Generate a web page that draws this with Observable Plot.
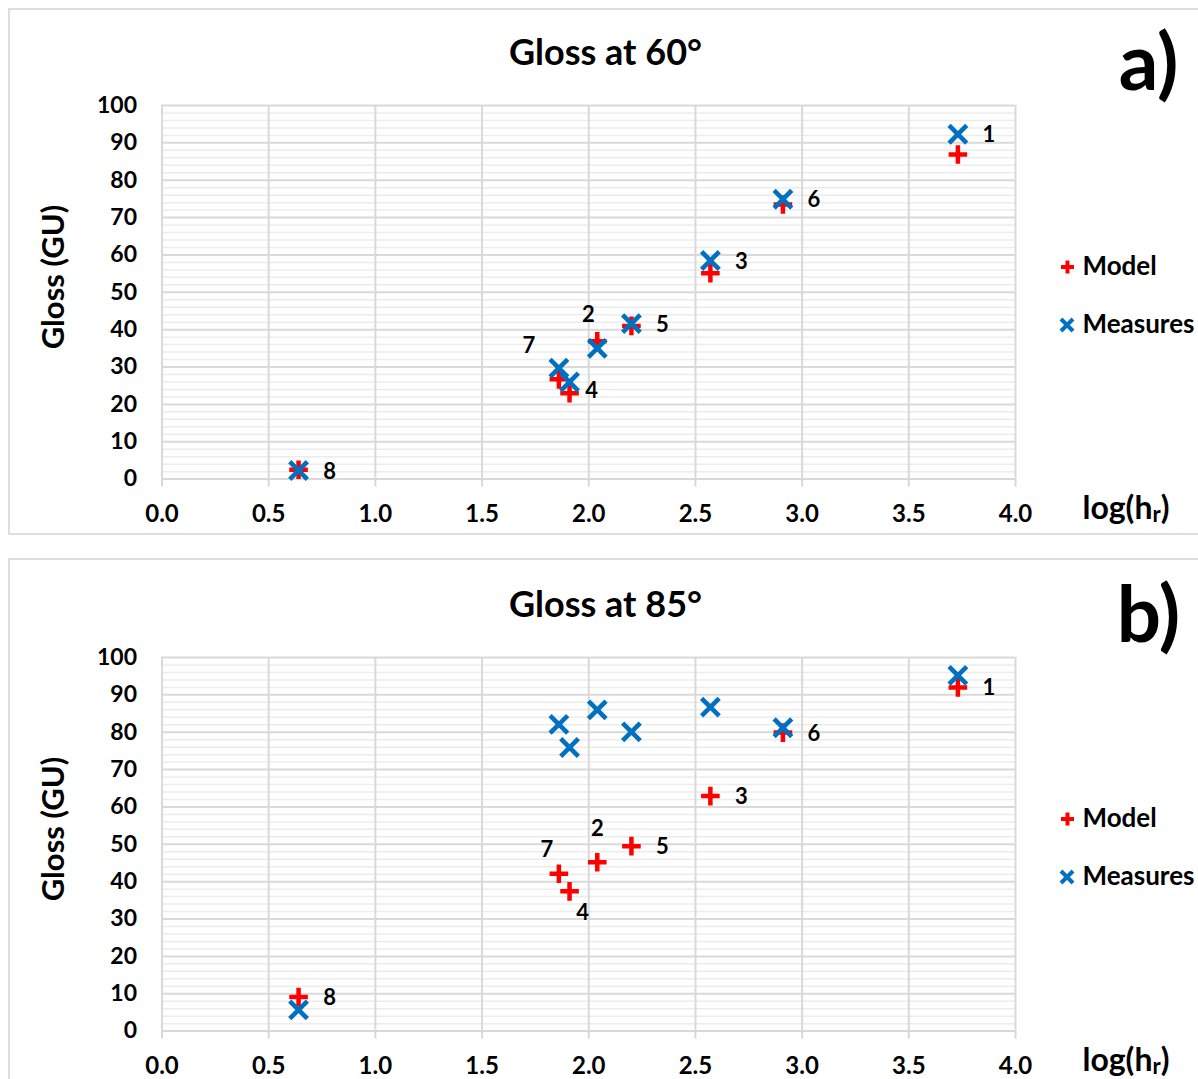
<!DOCTYPE html>
<html>
<head>
<meta charset="utf-8">
<script src="https://cdn.jsdelivr.net/npm/d3@7"></script>
<script src="https://cdn.jsdelivr.net/npm/@observablehq/plot@0.6"></script>
<style>
  html, body { margin: 0; padding: 0; background: #fff; }
  #page { position: relative; width: 1198px; height: 1079px; overflow: hidden; background: #fff; font-family: Lato, sans-serif; }
  .frame { position: absolute; border: 2px solid #dedede; box-sizing: border-box; background: #fff; }
  .chart { position: absolute; left: 0; }
  .chart svg { display: block; overflow: visible; }
</style>
</head>
<body>
<div id="page">
  <div class="frame" style="left:8px; top:8px; width:1200px; height:527px;"></div>
  <div class="frame" style="left:8px; top:558px; width:1200px; height:600px;"></div>
  <div class="chart" id="panelA" style="top:0px;"></div>
  <div class="chart" id="panelB" style="top:551.5px;"></div>
</div>
<script>
// ---- data ----
const pointIds   = [1, 2, 3, 4, 5, 6, 7, 8];
const logHr      = [3.73, 2.04, 2.57, 1.91, 2.20, 2.91, 1.86, 0.64];
const model60    = [86.9, 36.9, 55.1, 23.0, 41.0, 73.5, 26.7, 2.5];
const measures60 = [92.3, 35.0, 58.5, 26.0, 41.6, 74.9, 29.7, 2.3];
const model85    = [92.0, 45.2, 62.9, 37.4, 49.5, 79.9, 42.1, 9.1];
const measures85 = [95.2, 86.0, 86.7, 75.9, 80.1, 81.2, 82.1, 5.7];
const xTicks     = [0, 0.5, 1, 1.5, 2, 2.5, 3, 3.5, 4];
const yTicks     = [0, 10, 20, 30, 40, 50, 60, 70, 80, 90, 100];
const titles     = ["Gloss at 60°", "Gloss at 85°"];
const panelTags  = ["a)", "b)"];
const seriesNames = ["Model", "Measures"];
const yTitle     = "Gloss (GU)";

// ---- styles ----
const RED = "#ff0000", BLUE = "#0070c0";
const yMinor = d3.range(0, 100, 2).filter(v => !yTicks.includes(v));

const plusSymbol = { draw(ctx, size) { const r = Math.sqrt(size / Math.PI);
  ctx.moveTo(-r, 0); ctx.lineTo(r, 0); ctx.moveTo(0, -r); ctx.lineTo(0, r); } };
const timesSymbol = { draw(ctx, size) { const r = Math.sqrt(size / Math.PI);
  ctx.moveTo(-r, -r); ctx.lineTo(r, r); ctx.moveTo(-r, r); ctx.lineTo(r, -r); } };

// label placement (pixel offsets) per point id
const placeA = {1: [31, 1], 2: [-9, -33], 3: [31, 1], 4: [22, 9], 5: [31, 1], 6: [31, 1], 7: [-30, -22], 8: [31, 1]};
const placeB = {1: [31, 1], 2: [0, -33], 3: [31, 1], 4: [13, 22], 5: [31, 1], 6: [31, 1], 7: [-12, -24], 8: [31, 1]};

function makePanel({model, measures, title, tag, labelOn, place}) {
  const rows = pointIds.map((id, i) => ({id, x: logHr[i], model: model[i], measures: measures[i]}));
  const textStyle = {fontFamily: "Lato, sans-serif", fontWeight: "bold", fill: "#000", lineAnchor: "middle"};
  const labelMarks = pointIds.map(id => Plot.text(rows.filter(r => r.id === id), {
    x: "x", y: labelOn, text: d => String(d.id), dx: place[id][0], dy: place[id][1],
    fontSize: 22, ...textStyle
  }));
  return Plot.plot({
    width: 1198, height: 540,
    marginLeft: 161.5, marginRight: 183, marginTop: 105, marginBottom: 61.4,
    x: {domain: [0, 4]},
    y: {domain: [0, 100]},
    style: {background: "transparent", fontFamily: "Lato, sans-serif", overflow: "visible"},
    marks: [
      Plot.ruleY(yMinor, {stroke: "#ececec", strokeWidth: 1.5}),
      Plot.ruleY(yTicks, {stroke: "#d9d9d9", strokeWidth: 2}),
      Plot.ruleX(xTicks, {stroke: "#d9d9d9", strokeWidth: 2}),
      Plot.axisX({ticks: xTicks, tickSize: 8, tickPadding: 18, stroke: "#d9d9d9", strokeWidth: 2,
        tickFormat: d3.format(".1f"), fontSize: 24, fontWeight: "bold", fill: "#000", label: null}),
      Plot.axisY({ticks: yTicks, tickSize: 0, tickPadding: 25, fontSize: 23, fontWeight: "bold",
        fill: "#000", label: null}),
      Plot.dot(rows, {x: "x", y: "model", symbol: plusSymbol, r: 9.3, stroke: RED, strokeWidth: 4.5, fill: "none"}),
      Plot.dot(rows, {x: "x", y: "measures", symbol: timesSymbol, r: 8.8, stroke: BLUE, strokeWidth: 4.6, fill: "none"}),
      ...labelMarks,
      // title and panel tag
      Plot.text([title], {frameAnchor: "top", dx: 16.75, dy: -52, textAnchor: "middle", fontSize: 36, ...textStyle}),
      Plot.text([tag], {frameAnchor: "top-right", dx: 133, dy: -40, textAnchor: "middle", fontSize: 78, ...textStyle}),
      // y axis title
      Plot.text([yTitle], {frameAnchor: "left", dx: -108, dy: -15.3, rotate: -90, textAnchor: "middle", fontSize: 31, ...textStyle}),
      // x axis title (subscript added below)
      Plot.text(["log(hr)"], {frameAnchor: "bottom-right", dx: 67, dy: 30, textAnchor: "start",
        fontSize: 32, className: "xtitle", ...textStyle}),
      // legend
      Plot.dot([seriesNames[0]], {frameAnchor: "top-right", dx: 52, dy: 161.5, symbol: plusSymbol, r: 6.5,
        stroke: RED, strokeWidth: 4, fill: "none"}),
      Plot.text([seriesNames[0]], {frameAnchor: "top-right", dx: 67, dy: 161.5, textAnchor: "start", fontSize: 26, ...textStyle}),
      Plot.dot([seriesNames[1]], {frameAnchor: "top-right", dx: 51.5, dy: 219.5, symbol: timesSymbol, r: 6,
        stroke: BLUE, strokeWidth: 4, fill: "none"}),
      Plot.text([seriesNames[1]], {frameAnchor: "top-right", dx: 67, dy: 219.5, textAnchor: "start", fontSize: 26, ...textStyle})
    ]
  });
}

function fixSubscript(svg) {
  d3.select(svg).selectAll("g.xtitle text").each(function() {
    const t = d3.select(this);
    t.text(null);
    t.append("tspan").text("log(h");
    t.append("tspan").attr("font-size", "22px").attr("dy", "3").text("r");
    t.append("tspan").attr("dy", "-3").text(")");
  });
}

const a = makePanel({model: model60, measures: measures60, title: titles[0], tag: panelTags[0], labelOn: "measures", place: placeA});
const b = makePanel({model: model85, measures: measures85, title: titles[1], tag: panelTags[1], labelOn: "model", place: placeB});
fixSubscript(a); fixSubscript(b);
document.getElementById("panelA").appendChild(a);
document.getElementById("panelB").appendChild(b);
</script>
</body>
</html>
